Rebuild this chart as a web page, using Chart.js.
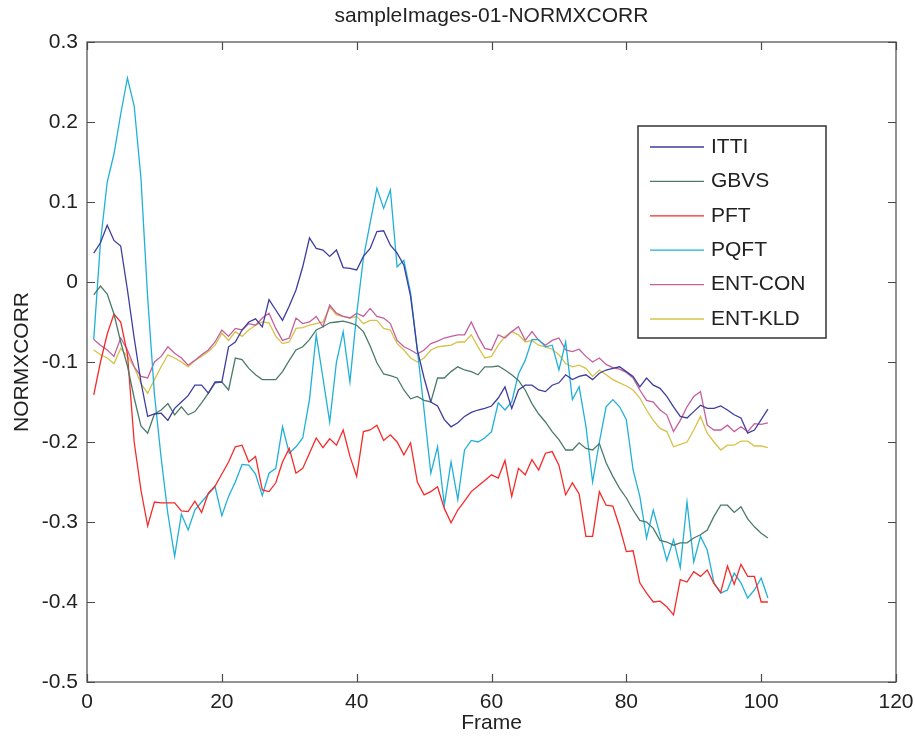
<!DOCTYPE html>
<html lang="en">
<head>
<meta charset="UTF-8">
<title>sampleImages-01-NORMXCORR</title>
<script src="https://cdn.jsdelivr.net/npm/chart.js@4"></script>
<style>
    html, body { margin: 0; padding: 0; background: #ffffff; }
    #wrap { width: 915px; height: 740px; }
</style>
</head>
<body>
<div id="wrap"><canvas id="chart" width="915" height="740"></canvas></div>
<script>
// frame numbers 1..101
const frames = Array.from({ length: 101 }, (_, i) => i + 1);

const xTicks = [0, 20, 40, 60, 80, 100, 120];
const yTicks = [-0.5, -0.4, -0.3, -0.2, -0.1, 0, 0.1, 0.2, 0.3];

const itti = [
    0.036, 0.049, 0.071, 0.052, 0.045, -0.010, -0.070, -0.125, -0.168, -0.165,
    -0.164, -0.173, -0.158, -0.150, -0.142, -0.129, -0.129, -0.139, -0.125, -0.125,
    -0.081, -0.075, -0.060, -0.050, -0.046, -0.056, -0.022, -0.035, -0.048, -0.030,
    -0.010, 0.019, 0.055, 0.042, 0.040, 0.032, 0.040, 0.018, 0.017, 0.015,
    0.032, 0.042, 0.063, 0.064, 0.046, 0.036, 0.021, -0.018, -0.085, -0.120,
    -0.150, -0.155, -0.172, -0.181, -0.176, -0.168, -0.163, -0.160, -0.158, -0.155,
    -0.145, -0.131, -0.158, -0.135, -0.129, -0.129, -0.135, -0.137, -0.129, -0.126,
    -0.116, -0.122, -0.118, -0.116, -0.122, -0.114, -0.110, -0.108, -0.106, -0.112,
    -0.118, -0.131, -0.120, -0.129, -0.133, -0.143, -0.156, -0.168, -0.170, -0.162,
    -0.154, -0.158, -0.158, -0.155, -0.160, -0.166, -0.170, -0.189, -0.185, -0.172,
    -0.159
];

const gbvs = [
    -0.016, -0.005, -0.015, -0.040, -0.075, -0.105, -0.145, -0.180, -0.189, -0.165,
    -0.160, -0.152, -0.166, -0.156, -0.166, -0.162, -0.151, -0.139, -0.126, -0.125,
    -0.135, -0.095, -0.097, -0.108, -0.116, -0.122, -0.122, -0.122, -0.112, -0.098,
    -0.085, -0.081, -0.072, -0.060, -0.056, -0.051, -0.050, -0.049, -0.051, -0.054,
    -0.062, -0.080, -0.101, -0.115, -0.117, -0.120, -0.135, -0.146, -0.143, -0.148,
    -0.150, -0.120, -0.120, -0.112, -0.106, -0.110, -0.112, -0.116, -0.106, -0.106,
    -0.105, -0.110, -0.116, -0.123, -0.135, -0.152, -0.165, -0.175, -0.187, -0.197,
    -0.210, -0.210, -0.201, -0.208, -0.210, -0.202, -0.226, -0.243, -0.258, -0.270,
    -0.285, -0.298, -0.300, -0.308, -0.323, -0.325, -0.329, -0.326, -0.326, -0.320,
    -0.316, -0.310, -0.293, -0.279, -0.279, -0.288, -0.281, -0.296, -0.306, -0.314,
    -0.320
];

const pft = [
    -0.141, -0.100, -0.065, -0.040, -0.050, -0.090, -0.200, -0.260, -0.305, -0.275,
    -0.276, -0.276, -0.276, -0.286, -0.287, -0.274, -0.288, -0.264, -0.255, -0.240,
    -0.225, -0.206, -0.204, -0.225, -0.218, -0.260, -0.262, -0.251, -0.225, -0.208,
    -0.239, -0.233, -0.214, -0.195, -0.207, -0.196, -0.204, -0.185, -0.218, -0.243,
    -0.187, -0.185, -0.179, -0.198, -0.191, -0.200, -0.216, -0.201, -0.250, -0.266,
    -0.262, -0.256, -0.283, -0.301, -0.285, -0.274, -0.262, -0.255, -0.248, -0.241,
    -0.245, -0.223, -0.268, -0.233, -0.241, -0.222, -0.235, -0.214, -0.212, -0.229,
    -0.266, -0.251, -0.265, -0.318, -0.318, -0.262, -0.279, -0.280, -0.306, -0.337,
    -0.336, -0.376, -0.389, -0.400, -0.399, -0.406, -0.416, -0.372, -0.375, -0.362,
    -0.368, -0.360, -0.377, -0.388, -0.355, -0.378, -0.353, -0.368, -0.368, -0.400,
    -0.400
];

const pqft = [
    -0.072, 0.050, 0.125, 0.160, 0.210, 0.255, 0.220, 0.130, -0.020, -0.140,
    -0.220, -0.290, -0.343, -0.290, -0.310, -0.285, -0.275, -0.265, -0.256, -0.292,
    -0.268, -0.250, -0.228, -0.229, -0.240, -0.267, -0.239, -0.233, -0.181, -0.214,
    -0.206, -0.195, -0.147, -0.066, -0.120, -0.175, -0.100, -0.062, -0.125, -0.040,
    0.030, 0.074, 0.117, 0.092, 0.115, 0.019, 0.027, -0.014, -0.085, -0.160,
    -0.239, -0.206, -0.279, -0.225, -0.272, -0.210, -0.198, -0.200, -0.195, -0.187,
    -0.151, -0.160, -0.150, -0.115, -0.098, -0.072, -0.072, -0.081, -0.079, -0.110,
    -0.075, -0.147, -0.131, -0.180, -0.250, -0.200, -0.156, -0.147, -0.156, -0.172,
    -0.235, -0.268, -0.320, -0.285, -0.316, -0.348, -0.322, -0.357, -0.275, -0.350,
    -0.318, -0.335, -0.376, -0.389, -0.385, -0.364, -0.376, -0.395, -0.385, -0.370,
    -0.395
];

const entCon = [
    -0.072, -0.079, -0.085, -0.093, -0.070, -0.085, -0.106, -0.118, -0.120, -0.100,
    -0.093, -0.081, -0.089, -0.095, -0.104, -0.098, -0.091, -0.085, -0.075, -0.060,
    -0.068, -0.058, -0.060, -0.052, -0.054, -0.045, -0.039, -0.058, -0.073, -0.070,
    -0.045, -0.052, -0.050, -0.043, -0.056, -0.029, -0.039, -0.043, -0.045, -0.039,
    -0.043, -0.033, -0.043, -0.045, -0.052, -0.073, -0.081, -0.085, -0.090, -0.085,
    -0.077, -0.074, -0.070, -0.068, -0.066, -0.066, -0.050, -0.068, -0.083, -0.085,
    -0.066, -0.070, -0.062, -0.056, -0.073, -0.062, -0.073, -0.079, -0.073, -0.070,
    -0.085, -0.087, -0.084, -0.093, -0.100, -0.095, -0.103, -0.107, -0.109, -0.113,
    -0.120, -0.135, -0.148, -0.150, -0.160, -0.166, -0.187, -0.173, -0.156, -0.143,
    -0.137, -0.179, -0.185, -0.185, -0.179, -0.187, -0.181, -0.187, -0.177, -0.178,
    -0.176
];

const entKld = [
    -0.085, -0.091, -0.095, -0.102, -0.083, -0.093, -0.106, -0.127, -0.139, -0.122,
    -0.106, -0.091, -0.095, -0.100, -0.106, -0.098, -0.093, -0.087, -0.079, -0.064,
    -0.073, -0.062, -0.068, -0.060, -0.054, -0.050, -0.051, -0.068, -0.077, -0.075,
    -0.058, -0.057, -0.054, -0.052, -0.050, -0.031, -0.041, -0.043, -0.045, -0.043,
    -0.052, -0.048, -0.048, -0.058, -0.060, -0.077, -0.085, -0.095, -0.100, -0.095,
    -0.085, -0.081, -0.080, -0.079, -0.075, -0.075, -0.066, -0.081, -0.095, -0.093,
    -0.079, -0.068, -0.062, -0.066, -0.075, -0.073, -0.079, -0.081, -0.084, -0.091,
    -0.102, -0.106, -0.104, -0.108, -0.118, -0.110, -0.116, -0.122, -0.126, -0.130,
    -0.135, -0.145, -0.160, -0.173, -0.183, -0.187, -0.206, -0.203, -0.200, -0.185,
    -0.168, -0.189, -0.200, -0.210, -0.204, -0.204, -0.199, -0.199, -0.205, -0.205,
    -0.207
];

const seriesNames = ['ITTI', 'GBVS', 'PFT', 'PQFT', 'ENT-CON', 'ENT-KLD'];
const seriesColors = ['#3d3d9e', '#4a7b69', '#f52a2a', '#1fb0d8', '#c45f9c', '#d6c24a'];
const seriesValues = [itti, gbvs, pft, pqft, entCon, entKld];

const FONT = "'Liberation Sans', Arial, Helvetica, sans-serif";
const AXIS_COLOR = '#4a4a4a';

// MATLAB-like box with inward ticks on all four sides, title and legend
const boxPlugin = {
    id: 'boxPlugin',
    afterDatasetsDraw(chart) {
        const { ctx, chartArea: a, scales } = chart;
        const len = 8;
        ctx.save();
        ctx.strokeStyle = AXIS_COLOR;
        ctx.lineWidth = 1.2;
        ctx.strokeRect(a.left, a.top, a.right - a.left, a.bottom - a.top);
        ctx.beginPath();
        xTicks.forEach(v => {
            const px = Math.round(scales.x.getPixelForValue(v)) + 0.5;
            ctx.moveTo(px, a.bottom); ctx.lineTo(px, a.bottom - len);
            ctx.moveTo(px, a.top); ctx.lineTo(px, a.top + len);
        });
        yTicks.forEach(v => {
            const py = Math.round(scales.y.getPixelForValue(v)) + 0.5;
            ctx.moveTo(a.left, py); ctx.lineTo(a.left + len, py);
            ctx.moveTo(a.right, py); ctx.lineTo(a.right - len, py);
        });
        ctx.stroke();

        // title
        ctx.fillStyle = '#222';
        ctx.font = '21px ' + FONT;
        ctx.textAlign = 'center';
        ctx.textBaseline = 'middle';
        ctx.fillText('sampleImages-01-NORMXCORR', (a.left + a.right) / 2, 16);

        // legend box inside the axes
        const lx = a.right - 258, ly = a.top + 84, lw = 188, lh = 212;
        ctx.fillStyle = '#ffffff';
        ctx.fillRect(lx, ly, lw, lh);
        ctx.strokeStyle = '#333';
        ctx.lineWidth = 1.5;
        ctx.strokeRect(lx, ly, lw, lh);
        ctx.textAlign = 'left';
        ctx.font = '21px ' + FONT;
        chart.data.datasets.forEach((ds, i) => {
            const cy = ly + 21 + i * 34.4;
            ctx.strokeStyle = ds.borderColor;
            ctx.lineWidth = 1.3;
            ctx.beginPath();
            ctx.moveTo(lx + 12, cy);
            ctx.lineTo(lx + 66, cy);
            ctx.stroke();
            ctx.fillStyle = '#222';
            ctx.fillText(ds.label, lx + 73, cy);
        });
        ctx.restore();
    }
};

const datasets = seriesNames.map((name, i) => ({
    label: name,
    data: seriesValues[i].map((v, j) => ({ x: frames[j], y: v })),
    borderColor: seriesColors[i],
    backgroundColor: seriesColors[i],
    borderWidth: 1.3,
    pointRadius: 0,
    tension: 0,
    fill: false
}));

new Chart(document.getElementById('chart'), {
    type: 'line',
    data: { datasets },
    options: {
        responsive: false,
        animation: false,
        layout: { padding: { top: 42, right: 19, left: 0, bottom: 0 } },
        plugins: {
            legend: { display: false },
            title: { display: false },
            tooltip: { enabled: false }
        },
        scales: {
            x: {
                type: 'linear',
                min: 0,
                max: 120,
                afterBuildTicks(scale) { scale.ticks = xTicks.map(v => ({ value: v })); },
                afterFit(scale) {
                    scale.height = 58;
                    scale.paddingLeft = 0;
                    scale.paddingRight = 0;
                },
                grid: { display: false, drawTicks: false },
                border: { display: false },
                ticks: {
                    color: '#222',
                    padding: 8,
                    maxRotation: 0,
                    font: { family: FONT, size: 21 }
                },
                title: {
                    display: true,
                    text: 'Frame',
                    color: '#222',
                    padding: { top: 0, bottom: 4 },
                    font: { family: FONT, size: 21 }
                }
            },
            y: {
                type: 'linear',
                min: -0.5,
                max: 0.3,
                afterBuildTicks(scale) { scale.ticks = yTicks.map(v => ({ value: v })); },
                afterFit(scale) {
                    scale.width = 87;
                    scale.paddingTop = 0;
                    scale.paddingBottom = 0;
                },
                grid: { display: false, drawTicks: false },
                border: { display: false },
                ticks: {
                    color: '#222',
                    padding: 9,
                    font: { family: FONT, size: 21 },
                    callback: v => String(Math.round(v * 10) / 10)
                },
                title: {
                    display: true,
                    text: 'NORMXCORR',
                    color: '#222',
                    padding: { top: 10, bottom: 0 },
                    font: { family: FONT, size: 21 }
                }
            }
        }
    },
    plugins: [boxPlugin]
});
</script>
</body>
</html>
